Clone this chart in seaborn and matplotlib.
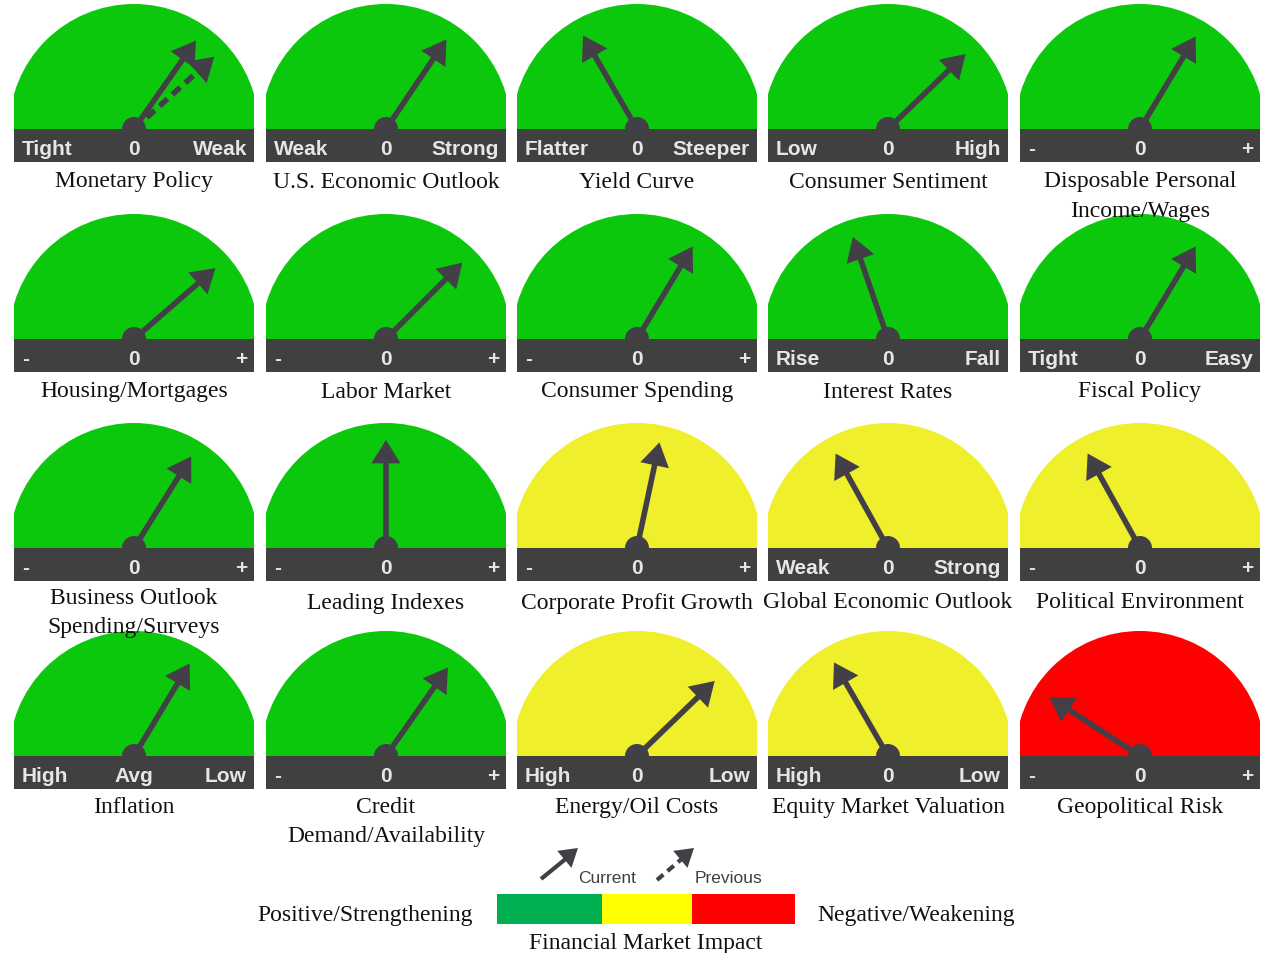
import numpy as np
import matplotlib
matplotlib.use('Agg')
import matplotlib.pyplot as plt
import seaborn as sns
from matplotlib.patches import Wedge, Rectangle, FancyArrowPatch

# gauge data, row by row (5 per row)
titles = ['Monetary Policy', 'U.S. Economic Outlook', 'Yield Curve', 'Consumer Sentiment',
          'Disposable Personal\nIncome/Wages',
          'Housing/Mortgages', 'Labor Market', 'Consumer Spending', 'Interest Rates', 'Fiscal Policy',
          'Business Outlook\nSpending/Surveys', 'Leading Indexes', 'Corporate Profit Growth',
          'Global Economic Outlook', 'Political Environment',
          'Inflation', 'Credit\nDemand/Availability', 'Energy/Oil Costs', 'Equity Market Valuation',
          'Geopolitical Risk']
left_labels = ['Tight', 'Weak', 'Flatter', 'Low', '-',
               '-', '-', '-', 'Rise', 'Tight',
               '-', '-', '-', 'Weak', '-',
               'High', '-', 'High', 'High', '-']
mid_labels = ['0'] * 15 + ['Avg', '0', '0', '0', '0']
right_labels = ['Weak', 'Strong', 'Steeper', 'High', '+',
                '+', '+', '+', 'Fall', 'Easy',
                '+', '+', '+', 'Strong', '+',
                'Low', '+', 'Low', 'Low', '+']
zones = ['green'] * 12 + ['yellow', 'yellow', 'yellow',
                          'green', 'green', 'yellow', 'yellow', 'red']
# needle angle in degrees (0 = right end, 180 = left end)
current_angle = [55, 56, 120, 44, 59,
                 41, 45, 59, 109, 59,
                 58, 90, 78, 119, 119,
                 59, 55, 44, 120, 147]
previous_angle = {0: 42}

zone_colors = {'green': '#0cc80c', 'yellow': '#efef2c', 'red': '#fe0000'}
legend_names = ['Positive', 'Neutral', 'Negative']
legend_widths = [105, 90, 103]
legend_colors = ['#00b050', '#ffff00', '#ff0000']

W, H = 1264, 954
col_left = [14, 266, 517, 768, 1020]
row_bar_top = [130, 340, 549, 757]
row_title_y = [182, 392, 603, 808]
gw, bar_h, rad = 240, 33, 125
dark = '#404040'
needle = '#433f47'
HEAD = '-|>,head_length=0.8,head_width=0.5'

sns.set_theme(style='white')
serif = ['Liberation Serif', 'DejaVu Serif']
sans = ['Liberation Sans', 'DejaVu Sans']

fig = plt.figure(figsize=(W / 100, H / 100), dpi=100)
ax = fig.add_axes([0, 0, 1, 1])
ax.set_xlim(0, W)
ax.set_ylim(0, H)
ax.set_axis_off()


def py(y):
    return H - y


def draw_arrow(cx, cy, ang, dashed=False, length=108):
    a = np.deg2rad(ang)
    ux, uy = np.cos(a), np.sin(a)
    tx, ty = cx + length * ux, cy + length * uy
    bx, by = cx + (length - 13) * ux, cy + (length - 13) * uy
    ls = (0, (1.9, 1.2)) if dashed else '-'
    ax.plot([cx, bx], [cy, by], color=needle, lw=4, ls=ls, solid_capstyle='butt',
            dash_capstyle='butt', zorder=4 if dashed else 5)
    sx, sy = cx + (length - 24) * ux, cy + (length - 24) * uy
    ax.add_patch(FancyArrowPatch((sx, sy), (tx, ty), arrowstyle=HEAD, mutation_scale=21,
                                 color=needle, lw=0, shrinkA=0, shrinkB=0, zorder=5))


for i, title in enumerate(titles):
    r, c = divmod(i, 5)
    x0 = col_left[c]
    cx = x0 + gw / 2
    top = row_bar_top[r]
    cy = py(top)
    # dial face, clipped to gauge width
    face = Wedge((cx, cy), rad, 0, 180, color=zone_colors[zones[i]], lw=0, zorder=1)
    ax.add_patch(face)
    face.set_clip_path(Rectangle((x0, cy - 5), gw, rad + 10, transform=ax.transData))
    # dark scale bar
    ax.add_patch(Rectangle((x0, py(top + bar_h)), gw, bar_h, color=dark, lw=0, zorder=2))
    tyc = py(top + bar_h / 2 + 3)
    ax.text(x0 + 8, tyc, left_labels[i], color='#e6e6e6', fontsize=15, fontweight='bold',
            family=sans, ha='left', va='center', zorder=3)
    ax.text(cx, tyc, mid_labels[i], color='#e6e6e6', fontsize=15, fontweight='bold',
            family=sans, ha='center', va='center', zorder=3)
    ax.text(x0 + gw - 7, tyc, right_labels[i], color='#e6e6e6', fontsize=15, fontweight='bold',
            family=sans, ha='right', va='center', zorder=3)
    # needles and hub
    if i in previous_angle:
        draw_arrow(cx, cy, previous_angle[i], dashed=True)
    draw_arrow(cx, cy, current_angle[i])
    ax.add_patch(Wedge((cx, cy), 12, 0, 180, color=needle, lw=0, zorder=6))
    # title below gauge
    ty = row_title_y[r] - (4 if '\n' in title and r == 2 else 0)
    for k, line in enumerate(title.split('\n')):
        ax.text(cx, py(ty + 29 * k), line, fontsize=17, family=serif, color='#111111',
                ha='center', va='center', zorder=7)

# legend: arrows
ax.plot([541, 568], [py(880), py(858)], color=needle, lw=3, solid_capstyle='butt')
ax.add_patch(FancyArrowPatch((560, py(864)), (578, py(849)), arrowstyle=HEAD,
                             mutation_scale=16, color=needle, lw=0, shrinkA=0, shrinkB=0))
ax.plot([657, 684], [py(881), py(858)], color=needle, lw=3, ls=(0, (2, 1.3)), dash_capstyle='butt')
ax.add_patch(FancyArrowPatch((676, py(864)), (694, py(849)), arrowstyle=HEAD,
                             mutation_scale=16, color=needle, lw=0, shrinkA=0, shrinkB=0))
ax.text(578, py(879), 'Current', fontsize=12.5, family=sans, color='#404040', ha='left', va='center')
ax.text(695, py(879), 'Previous', fontsize=12.5, family=sans, color='#404040', ha='left', va='center')

# legend: colour scale
lefts = np.concatenate([[497], 497 + np.cumsum(legend_widths)[:-1]])
ax.barh([py(910)] * 3, legend_widths, left=lefts, height=30, color=legend_colors, lw=0)
ax.text(473, py(916), 'Positive/Strengthening', fontsize=17, family=serif, color='#111111',
        ha='right', va='center')
ax.text(817, py(916), 'Negative/Weakening', fontsize=17, family=serif, color='#111111',
        ha='left', va='center')
ax.text(646, py(944), 'Financial Market Impact', fontsize=17, family=serif, color='#111111',
        ha='center', va='center')

fig.savefig('out.png', dpi=100, facecolor='white')
